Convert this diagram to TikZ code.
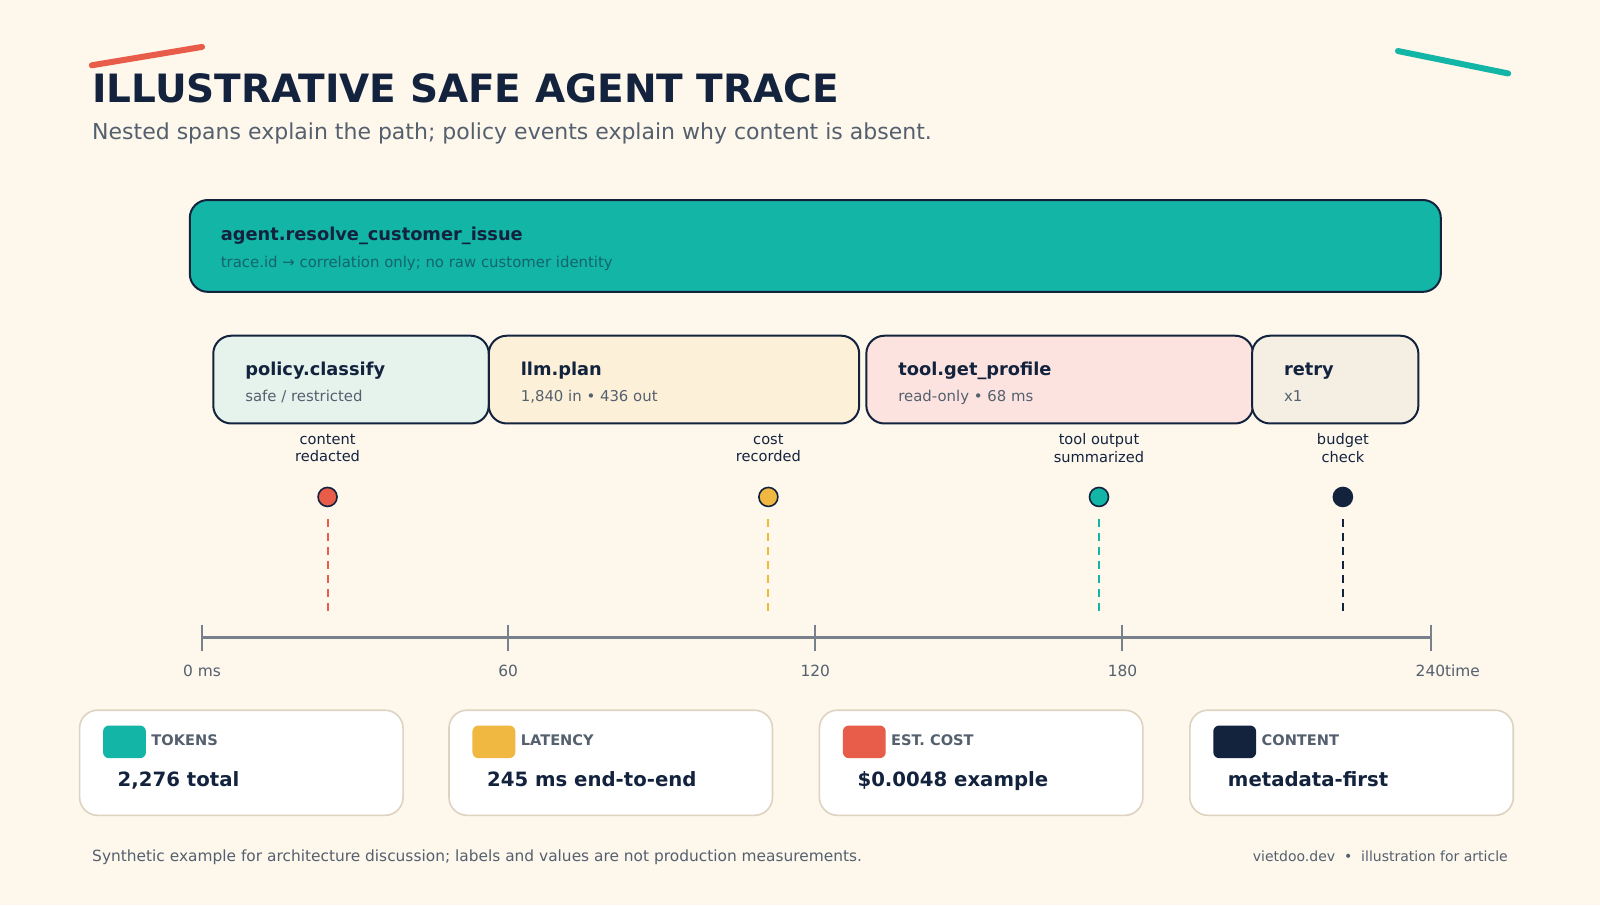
\documentclass[tikz,border=0pt]{standalone}
\usepackage{fontspec}
\setmainfont{DejaVu Sans}
\begin{document}
\definecolor{bg}{HTML}{FDF7EC}
\definecolor{navy}{HTML}{13233E}
\definecolor{teal}{HTML}{12B5A6}
\definecolor{red}{HTML}{E85C4A}
\definecolor{yel}{HTML}{F0B840}
\definecolor{gry}{HTML}{55606E}
\definecolor{cardb}{HTML}{DDD3C0}
\begin{tikzpicture}[x=0.5102pt,y=-0.5102pt,
  span/.style={draw=navy,line width=1pt,rounded corners=9pt},
  nm/.style={anchor=base west,font=\bfseries\fontsize{8.9}{10}\selectfont,text=navy,inner sep=0},
  sub/.style={anchor=base west,font=\fontsize{7.45}{8}\selectfont,text=gry,inner sep=0},
  ev/.style={align=center,font=\fontsize{7.3}{8.6}\selectfont,text=navy,inner sep=0},
  dot/.style={circle,draw=navy,line width=0.8pt,minimum size=9.5pt,inner sep=0},
  tick/.style={anchor=base,font=\fontsize{7.7}{8}\selectfont,text=gry,inner sep=0},
  card/.style={draw=cardb,fill=white,line width=0.8pt,rounded corners=9pt},
  sw/.style={rounded corners=3pt},
  cl/.style={anchor=base west,font=\bfseries\fontsize{7.3}{8}\selectfont,text=gry,inner sep=0},
  cv/.style={anchor=base west,font=\bfseries\fontsize{9.85}{12}\selectfont,text=navy,inner sep=0}]
\fill[bg] (0,0) rectangle (1568,887);
\useasboundingbox (0,0) rectangle (1568,887);
\draw[red,line width=3pt,line cap=round] (90,64) -- (198,46);
\draw[teal,line width=3pt,line cap=round] (1370,50) -- (1478,72);
\node[anchor=base west,inner sep=0,font=\bfseries\fontsize{19.5}{24}\selectfont,text=navy] (title) at (90,100) {ILLUSTRATIVE SAFE AGENT TRACE};
\node[anchor=base west,inner sep=0,font=\fontsize{11}{13}\selectfont,text=gry] (subt) at (90,137) {Nested spans explain the path; policy events explain why content is absent.};
% root span
\draw[span,fill=teal] (186,196) rectangle (1412,286);
\node[nm] (root) at (216,236) {agent.resolve\_customer\_issue};
\node[sub,text=navy!55!teal] (rootsub) at (216,262) {trace.id → correlation only; no raw customer identity};
% child spans
\definecolor{c1}{HTML}{E6F2EC}\definecolor{c2}{HTML}{FDF0D8}\definecolor{c3}{HTML}{FCE3E0}\definecolor{c4}{HTML}{F4EEE3}
\draw[span,fill=c1] (209,329) rectangle (479,415);
\draw[span,fill=c2] (479,329) rectangle (842,415);
\draw[span,fill=c3] (849,329) rectangle (1228,415);
\draw[span,fill=c4] (1227,329) rectangle (1390,415);
\node[nm] (s1) at (240,368) {policy.classify};
\node[sub] (s1b) at (240,393) {safe / restricted};
\node[nm] (s2) at (510,368) {llm.plan};
\node[sub] (s2b) at (510,393) {1,840 in • 436 out};
\node[nm] (s3) at (880,368) {tool.get\_profile};
\node[sub] (s3b) at (880,393) {read-only • 68 ms};
\node[nm] (s4) at (1258,368) {retry};
\node[sub] (s4b) at (1258,393) {x1};
% events
\foreach \x/\c/\t/\n in {321/red/{content\\redacted}/a,753/yel/{cost\\recorded}/b,1077/teal/{tool output\\summarized}/c,1316/navy/{budget\\check}/d}{
  \node[ev] (l\n) at (\x,439) {\t};
  \node[dot,fill=\c] (d\n) at (\x,487) {};
  \coordinate (e\n) at (\x,603);
  \draw[\c,line width=1pt,dash pattern=on 4pt off 3pt] (\x,509) -- (e\n);
}
% axis
\coordinate (a0) at (198,625); \coordinate (a1) at (1402,625);
\draw[gry!80,line width=1.5pt] (a0) -- (a1);
\foreach \x/\l in {198/0 ms,498/60,799/120,1100/180}{
  \draw[gry!80,line width=1pt] (\x,612) -- (\x,638);
  \node[tick] at (\x,663) {\l};
}
\draw[gry!80,line width=1pt] (1402,612) -- (1402,638);
\node[tick,anchor=base west] (t240) at (1387,663) {240time};
% cards
\foreach \x/\c/\l/\v/\n in {78/teal/TOKENS/{2,276 total}/p,440/yel/LATENCY/{245 ms end-to-end}/q,803/red/EST. COST/{\$0.0048 example}/r,1166/navy/CONTENT/metadata-first/s}{
  \draw[card] (\x,696) rectangle ++(317,103);
  \fill[\c,sw] (\x+23,711) rectangle ++(42,32);
  \node[cl] (k\n) at (\x+70,731) {\l};
  \node[cv] (v\n) at (\x+37,771) {\v};
}
\node[anchor=base west,inner sep=0,font=\fontsize{7.7}{9}\selectfont,text=gry] (foot) at (90,844) {Synthetic example for architecture discussion; labels and values are not production measurements.};
\node[anchor=base east,inner sep=0,font=\fontsize{7}{9}\selectfont,text=gry] (credit) at (1478,844) {vietdoo.dev \ • \ illustration for article};
\end{tikzpicture}
\end{document}
